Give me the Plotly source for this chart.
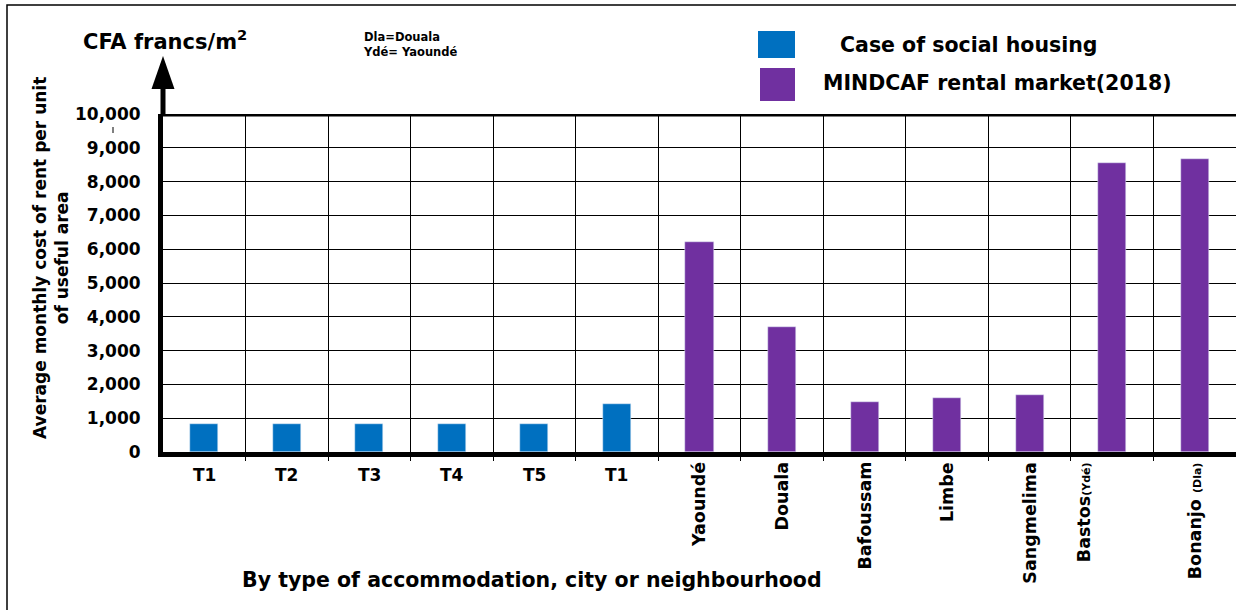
import plotly.graph_objects as go

# Bar data (CFA francs / m2)
social_labels = ["T1", "T2", "T3", "T4", "T5", "T1"]
social_values = [840, 840, 840, 840, 840, 1410]

market_labels = ["Yaoundé", "Douala", "Bafoussam", "Limbe", "Sangmelima",
                 "Bastos<span style='font-size:11px'>(Ydé)</span>",
                 "Bonanjo <span style='font-size:11px'>(Dla)</span>"]
market_values = [6200, 3710, 1490, 1610, 1680, 8560, 8670]

y_ticks = [0, 1000, 2000, 3000, 4000, 5000, 6000, 7000, 8000, 9000, 10000]

BLUE = "#0070C0"
PURPLE = "#7030A0"
FONT = "DejaVu Sans, sans-serif"

W, H = 1236, 610
L, R, T, B = 163, 0, 114, 158
PW, PH = W - L - R, H - T - B


def px_x(p):
    return (p - L) / PW


def px_y(p):
    return (H - B - p) / PH


def note(x, y, text, size, **kw):
    kw.setdefault("xanchor", "center")
    kw.setdefault("yanchor", "middle")
    fig.add_annotation(x=px_x(x), y=px_y(y), xref="paper", yref="paper", text=text,
                       showarrow=False, font=dict(size=size, family=FONT, color="black"), **kw)


n_social = len(social_values)
social_x = list(range(n_social))
market_x = [n_social + i for i in range(len(market_values))]
n_all = n_social + len(market_values)

fig = go.Figure()
fig.add_trace(go.Bar(x=social_x, y=social_values, marker_color=BLUE, width=0.34,
                     name="Case of social housing", showlegend=False))
fig.add_trace(go.Bar(x=market_x, y=market_values, marker_color=PURPLE, width=0.34,
                     name="MINDCAF rental market(2018)", showlegend=False))

fig.update_layout(
    width=W, height=H,
    margin=dict(l=L, r=R, t=T, b=B),
    paper_bgcolor="white", plot_bgcolor="white",
    font=dict(family=FONT, color="black"),
    bargap=0,
)
fig.update_xaxes(
    range=[-0.5, n_all - 0.5],
    tickvals=[i + 0.5 for i in range(n_all - 1)],
    showticklabels=False,
    showgrid=True, gridcolor="black", gridwidth=1.3,
    ticks="outside", ticklen=4, tickcolor="black",
    showline=True, linecolor="black", linewidth=5,
    zeroline=False, fixedrange=True,
)
fig.update_yaxes(
    range=[0, 10000],
    tickvals=y_ticks,
    tickformat=",d",
    tickfont=dict(size=17, family=FONT, weight="bold", color="black"),
    ticks="", ticklabelstandoff=14,
    showgrid=True, gridcolor="black", gridwidth=1.3,
    showline=True, linecolor="black", linewidth=5,
    zeroline=False, fixedrange=True,
)

# x category labels (horizontal for social housing types, vertical for markets)
for x, lab in zip(social_x, social_labels):
    fig.add_annotation(x=x, y=px_y(475), xref="x", yref="paper", text=f"<b>{lab}</b>",
                       showarrow=False, yanchor="middle", font=dict(size=17, family=FONT))
shifts = [0, 0, 0, 0, 0, -28, 0]
for x, lab, sh in zip(market_x, market_labels, shifts):
    fig.add_annotation(x=x, y=px_y(460), xref="x", yref="paper", text=f"<b>{lab}</b>",
                       showarrow=False, textangle=-90, yanchor="top", xshift=sh,
                       font=dict(size=17.5, family=FONT))

# thick top line at 10,000 and arrow on y axis
fig.add_shape(type="line", xref="paper", yref="y", x0=0, x1=1.01, y0=10000, y1=10000,
              line=dict(color="black", width=5))
fig.add_shape(type="line", xref="paper", yref="paper", x0=0, x1=0, y0=1, y1=px_y(84),
              line=dict(color="black", width=5))
fig.add_shape(type="path", xref="paper", yref="paper",
              path=f"M {px_x(151.5)} {px_y(89)} L {px_x(174.5)} {px_y(89)} L {px_x(163)} {px_y(56)} Z",
              fillcolor="black", line=dict(color="black", width=0))
fig.add_shape(type="line", xref="paper", yref="paper", x0=px_x(113), x1=px_x(113),
              y0=px_y(127), y1=px_y(133), line=dict(color="black", width=1))

# outer frame
fig.add_shape(type="rect", xref="paper", yref="paper", x0=px_x(7), x1=px_x(1300),
              y0=px_y(700), y1=px_y(5), line=dict(color="black", width=1.5))

# axis titles and notes
note(165, 40, "<b>CFA francs/m<sup>2</sup></b>", 21)
note(361, 44, "<b>Dla=Douala<br>Ydé= Yaoundé</b>", 11.5, xanchor="left", align="left")
note(51, 258, "<b>Average monthly cost of rent per unit<br>of useful area</b>", 17,
     textangle=-90)
note(532, 580, "<b>By type of accommodation, city or neighbourhood</b>", 20.5)

# legend drawn by hand
fig.add_shape(type="rect", xref="paper", yref="paper", x0=px_x(758), x1=px_x(795),
              y0=px_y(58), y1=px_y(31), fillcolor=BLUE, line=dict(width=0))
fig.add_shape(type="rect", xref="paper", yref="paper", x0=px_x(760), x1=px_x(795),
              y0=px_y(101), y1=px_y(68), fillcolor=PURPLE, line=dict(width=0))
note(838, 45, "<b>Case of social housing</b>", 20.5, xanchor="left")
note(821, 83, "<b>MINDCAF rental market(2018)</b>", 20.5, xanchor="left")

fig.write_html("out.html", config={"displayModeBar": False},
               post_script="document.body.style.margin='0';")
